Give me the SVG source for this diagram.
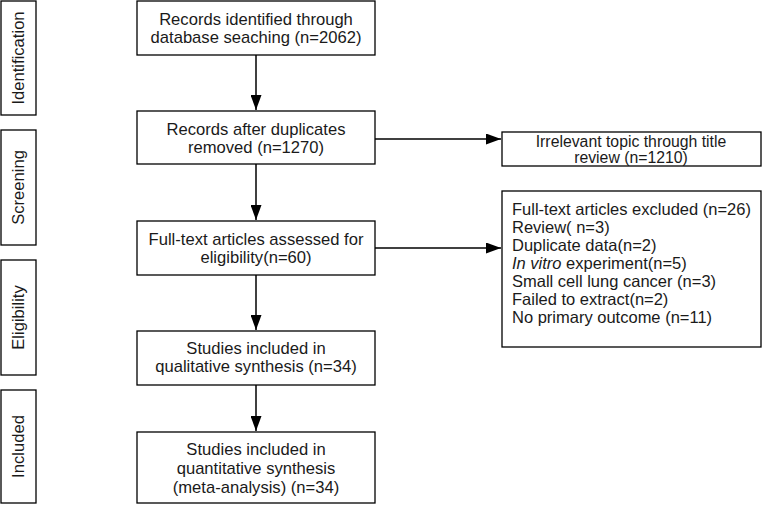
<svg xmlns="http://www.w3.org/2000/svg" width="762" height="505" viewBox="0 0 762 505">
<defs>
<marker id="ah" markerWidth="15" markerHeight="11" refX="15" refY="5.5" orient="auto" markerUnits="userSpaceOnUse" viewBox="0 0 15 11">
<path d="M0,0 L15,5.5 L0,11 Z" fill="#000"/>
</marker>
<style>
.box{fill:#fff;stroke:#000;stroke-width:1.3}
.t{font-family:"Liberation Sans",Arial,sans-serif;font-size:16.6px;fill:#1a1a1a}
.s{font-size:16.5px}
.r{font-size:15.8px}
.c{text-anchor:middle}
.ln{stroke:#000;stroke-width:1.5;fill:none}
</style>
</defs>
<rect width="762" height="505" fill="#fff"/>
<g id="stage-identification"><rect class="box" x="1" y="1" width="35" height="114"/><text class="t c" transform="translate(24,58) rotate(-90)">Identification</text></g>
<g id="stage-screening"><rect class="box" x="1" y="130" width="35" height="115"/><text class="t c" transform="translate(24,187.5) rotate(-90)">Screening</text></g>
<g id="stage-eligibility"><rect class="box" x="1" y="260" width="35" height="115"/><text class="t c" transform="translate(24,317.5) rotate(-90)">Eligibility</text></g>
<g id="stage-included"><rect class="box" x="1" y="390" width="35" height="113"/><text class="t c" transform="translate(24,446.5) rotate(-90)">Included</text></g>

<g id="n1"><rect class="box" x="137" y="1" width="238" height="54"/><text class="t c" x="256" y="25">Records identified through</text><text class="t c" x="256" y="43">database seaching (n=2062)</text></g>
<g id="n2"><rect class="box" x="137" y="111" width="238" height="53"/><text class="t c" x="256" y="135">Records after duplicates</text><text class="t c" x="256" y="153">removed (n=1270)</text></g>
<g id="n3"><rect class="box" x="137" y="221" width="238" height="54"/><text class="t c" x="256" y="245">Full-text articles assessed for</text><text class="t c" x="256" y="263">eligibility(n=60)</text></g>
<g id="n4"><rect class="box" x="137" y="331" width="238" height="54"/><text class="t c" x="256" y="354">Studies included in</text><text class="t c" x="256" y="372">qualitative synthesis (n=34)</text></g>
<g id="n5"><rect class="box" x="137" y="432" width="238" height="71"/><text class="t c" x="256" y="455">Studies included in</text><text class="t c" x="256" y="474">quantitative synthesis</text><text class="t c" x="256" y="493">(meta-analysis) (n=34)</text></g>
<g id="r1"><rect class="box" x="502" y="132" width="259" height="34"/><text class="t r c" x="631" y="146.5">Irrelevant topic through title</text><text class="t r c" x="631" y="163">review (n=1210)</text></g>
<g id="r2"><rect class="box" x="502" y="191" width="259" height="156"/>
<text class="t s" x="512" y="215">Full-text articles excluded (n=26)</text>
<text class="t s" x="512" y="233">Review( n=3)</text>
<text class="t s" x="512" y="251">Duplicate data(n=2)</text>
<text class="t s" x="512" y="269"><tspan font-style="italic">In vitro</tspan> experiment(n=5)</text>
<text class="t s" x="512" y="287">Small cell lung cancer (n=3)</text>
<text class="t s" x="512" y="305">Failed to extract(n=2)</text>
<text class="t s" x="512" y="323">No primary outcome (n=11)</text>
</g>

<g id="connectors">
<line class="ln" x1="256" y1="55" x2="256" y2="110" marker-end="url(#ah)"/>
<line class="ln" x1="256" y1="164" x2="256" y2="220" marker-end="url(#ah)"/>
<line class="ln" x1="256" y1="275" x2="256" y2="330" marker-end="url(#ah)"/>
<line class="ln" x1="256" y1="385" x2="256" y2="431" marker-end="url(#ah)"/>
<line class="ln" x1="375" y1="139" x2="501" y2="139" marker-end="url(#ah)"/>
<line class="ln" x1="375" y1="248" x2="501" y2="248" marker-end="url(#ah)"/>
</g>
</svg>
